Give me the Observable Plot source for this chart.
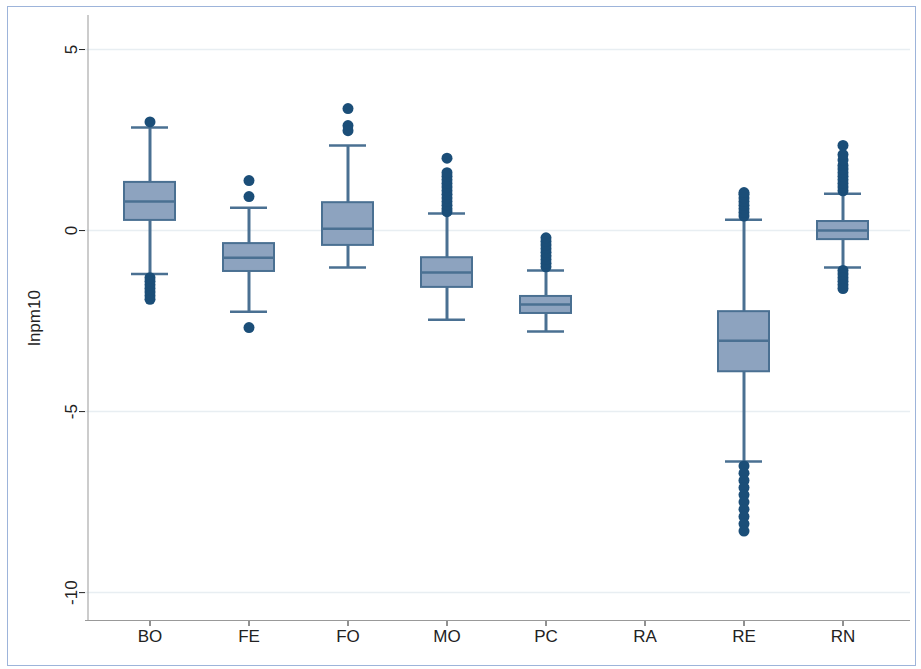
<!DOCTYPE html>
<html><head><meta charset="utf-8">
<script src="https://cdn.jsdelivr.net/npm/d3@7"></script>
<script src="https://cdn.jsdelivr.net/npm/@observablehq/plot@0.6"></script>
<style>
body{margin:0;background:#fff;}
#frame{position:absolute;left:7px;top:6px;width:909px;height:660px;border:1px solid #9db4da;box-sizing:border-box;}
</style></head><body>
<div id="frame"></div>
<div id="chart" style="position:absolute;left:0;top:0"></div>
<script>
const sites = ["BO", "FE", "FO", "MO", "PC", "RA", "RE", "RN"];
const q1 =     [0.28, -1.13, -0.41, -1.57, -2.29, null, -3.90, -0.25];
const median = [0.80, -0.75,  0.05, -1.16, -2.04, null, -3.04,  0.00];
const q3 =     [1.33, -0.36,  0.77, -0.75, -1.82, null, -2.24,  0.25];
const whiskLo = [-1.20, -2.24, -1.02, -2.46, -2.79, null, -6.38, -1.02];
const whiskHi = [2.85, 0.63, 2.35, 0.47, -1.10, null, 0.30, 1.02];
const outliers = {
  BO: [3.0, -1.3, -1.4, -1.5, -1.6, -1.7, -1.8, -1.9],
  FE: [1.38, 0.94, -2.68],
  FO: [3.37, 2.9, 2.76],
  MO: [0.52, 0.6, 0.7, 0.8, 0.9, 1.0, 1.1, 1.2, 1.3, 1.4, 1.5, 1.6, 2.0],
  PC: [-1.0, -0.9, -0.8, -0.7, -0.6, -0.5, -0.4, -0.3, -0.2],
  RA: [],
  RE: [0.4, 0.5, 0.6, 0.7, 0.8, 0.9, 1.0, 1.05, -6.5, -6.7, -6.9, -7.1, -7.3, -7.5, -7.7, -7.9, -8.1, -8.3],
  RN: [1.1, 1.2, 1.3, 1.4, 1.5, 1.6, 1.7, 1.8, 1.95, 2.1, 2.35, -1.1, -1.2, -1.3, -1.4, -1.5, -1.6]
};
const yTicks = [5, 0, -5, -10];

const boxes = sites.map((s, i) => ({site: s, q1: q1[i], med: median[i], q3: q3[i], lo: whiskLo[i], hi: whiskHi[i]}))
  .filter(d => d.med != null);
const pts = sites.flatMap(s => outliers[s].map(v => ({site: s, v})));
const fill = "#8da3bf", stroke = "#4a7092", dot = "#1b4e78";

const plot = Plot.plot({
  width: 921, height: 669,
  marginLeft: 85, marginRight: 11, marginTop: 15, marginBottom: 49,
  style: {fontFamily: "Liberation Sans, Arial, sans-serif", fontSize: "17px", color: "#222", background: "transparent"},
  x: {domain: sites, range: [97, 895], padding: 0, label: null, tickSize: 6},
  y: {domain: [-10.77, 5.94], ticks: yTicks, label: "lnpm10", labelAnchor: "center", labelOffset: 58, labelArrow: "none", tickRotate: -90, tickSize: 6, tickFormat: d => d},
  marks: [
    Plot.gridY(yTicks, {stroke: "#e8eef2", strokeOpacity: 1, strokeWidth: 1.5}),
    Plot.ruleX(boxes, {x: "site", y1: "lo", y2: "hi", stroke, strokeWidth: 3}),
    Plot.tickY(boxes, {x: "site", y: "lo", stroke, strokeWidth: 2.5, insetLeft: 31, insetRight: 31}),
    Plot.tickY(boxes, {x: "site", y: "hi", stroke, strokeWidth: 2.5, insetLeft: 31, insetRight: 31}),
    Plot.barY(boxes, {x: "site", y1: "q1", y2: "q3", fill, stroke, strokeWidth: 2, insetLeft: 24, insetRight: 24}),
    Plot.tickY(boxes, {x: "site", y: "med", stroke, strokeWidth: 2.5, insetLeft: 25, insetRight: 25}),
    Plot.dot(pts, {x: "site", y: "v", r: 5.5, fill: dot}),
    Plot.ruleX([0], {x: () => "BO", dx: -62, y1: -10.77, y2: 5.94, stroke: "#999"}),
    Plot.ruleY([-10.77], {stroke: "#999"})
  ]
});
document.getElementById("chart").appendChild(plot);
</script>
</body></html>
